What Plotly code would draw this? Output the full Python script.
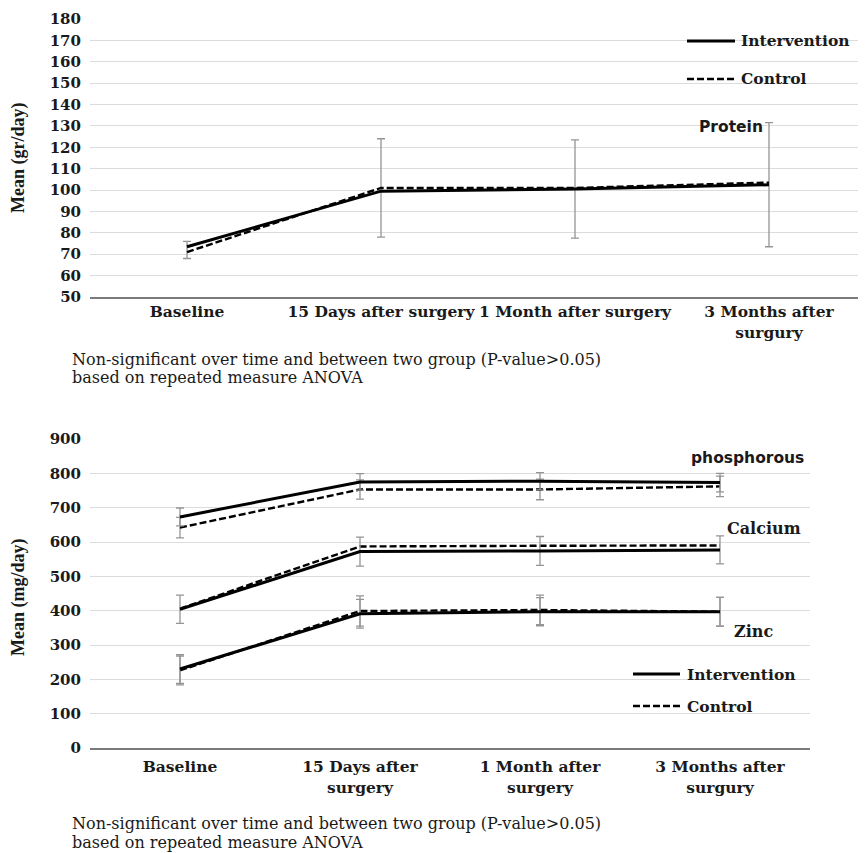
import plotly.graph_objects as go

# reference canvas and page offset (the page body adds an 8px margin)
W, H = 866, 853
OFF = 8
FW, FH = W - OFF, H - OFF

# ---------------- data ----------------
top_categories = ["Baseline", "15 Days after surgery", "1 Month after surgery", "3 Months after<br>surgury"]
bottom_categories = ["Baseline", "15 Days after<br>surgery", "1 Month after<br>surgery", "3 Months after<br>surgury"]

protein_intervention = [73.5, 99.5, 100.5, 102.5]
protein_control = [71, 101, 101, 103.5]
protein_control_err_plus = [5, 23, 22.5, 28]
protein_control_err_minus = [3, 23, 23.5, 30]

phos_intervention = [673, 775, 777, 773]
phos_intervention_err = [26, 24, 25, 27]
phos_control = [642, 753, 753, 762]
phos_control_err = [30, 28, 30, 30]

calcium_intervention = [404, 572, 574, 577]
calcium_intervention_err = [41, 42, 42, 41]
calcium_control = [406, 587, 589, 590]

zinc_intervention = [230, 391, 397, 397]
zinc_intervention_err = [42, 42, 41, 42]
zinc_control = [226, 399, 402, 397]
zinc_control_err = [42, 44, 43, 42]

# ---------------- styles ----------------
SERIF_B = dict(family="DejaVu Serif", weight="bold", color="#1a1a1a")
INT_LINE = dict(color="black", width=3)
CTL_LINE = dict(color="black", width=2.4, dash="7px,3px")
ERR = dict(type="data", color="#959595", thickness=1.3, width=4, visible=True)

def px_x(x):
    return (x - OFF) / FW

def px_y(y):
    return 1 - (y - OFF) / FH

fig = go.Figure()

def add(x, y, line, xa, ya, err=None, errm=None):
    tr = go.Scatter(x=x, y=y, mode="lines", line=line, xaxis=xa, yaxis=ya,
                    showlegend=False, hoverinfo="x+y")
    if err is not None:
        e = dict(ERR)
        e["array"] = err
        if errm is not None:
            e["symmetric"] = False
            e["arrayminus"] = errm
        tr.error_y = e
    fig.add_trace(tr)

# top chart
add(top_categories, protein_control, CTL_LINE, "x", "y", protein_control_err_plus, protein_control_err_minus)
add(top_categories, protein_intervention, INT_LINE, "x", "y")

# bottom chart
add(bottom_categories, phos_control, CTL_LINE, "x2", "y2", phos_control_err)
add(bottom_categories, phos_intervention, INT_LINE, "x2", "y2", phos_intervention_err)
add(bottom_categories, calcium_control, CTL_LINE, "x2", "y2")
add(bottom_categories, calcium_intervention, INT_LINE, "x2", "y2", calcium_intervention_err)
add(bottom_categories, zinc_control, CTL_LINE, "x2", "y2", zinc_control_err)
add(bottom_categories, zinc_intervention, INT_LINE, "x2", "y2", zinc_intervention_err)

xcommon = dict(type="category", showgrid=False, showline=True, linecolor="#7a7a7a",
               linewidth=1.5, ticks="", tickfont=dict(size=15.5, **SERIF_B), fixedrange=True,
               automargin=False, range=[-0.5, 3.5])
ycommon = dict(showgrid=True, gridcolor="#dcdcdc", gridwidth=1, zeroline=False,
               showline=False, ticks="", tickfont=dict(size=15, **SERIF_B),
               ticklabelstandoff=8, fixedrange=True, automargin=False)

fig.update_layout(
    width=FW, height=FH,
    margin=dict(l=0, r=0, t=0, b=0, autoexpand=False),
    paper_bgcolor="white", plot_bgcolor="white",
    showlegend=False,
    xaxis=dict(domain=[px_x(90), 1.0], anchor="y", categoryorder="array",
               categoryarray=top_categories, **xcommon),
    yaxis=dict(domain=[px_y(297), px_y(19)], range=[50, 180], dtick=10, anchor="x", **ycommon),
    xaxis2=dict(domain=[px_x(90), px_x(810)], anchor="y2", categoryorder="array",
                categoryarray=bottom_categories, ticklabelstandoff=4, **xcommon),
    yaxis2=dict(domain=[px_y(748), px_y(439)], range=[0, 900], dtick=100, anchor="x2", **ycommon),
)

annotations = []
shapes = []

def text(x, y, s, font, xanchor="left", angle=0, align="left"):
    annotations.append(dict(x=px_x(x), y=px_y(y), xref="paper", yref="paper", text=s,
                            showarrow=False, xanchor=xanchor, yanchor="middle",
                            textangle=angle, font=font, align=align))

def legend_line(x0, x1, y, line):
    shapes.append(dict(type="line", xref="paper", yref="paper", x0=px_x(x0), x1=px_x(x1),
                       y0=px_y(y), y1=px_y(y), line=line))

legend_font = dict(size=15.5, **SERIF_B)
label_serif = dict(size=16, **SERIF_B)
label_sans = dict(family="DejaVu Sans", weight="bold", size=15.5, color="#1a1a1a")
note_font = dict(family="DejaVu Serif", size=16, color="#1a1a1a")
ytitle_font = dict(family="Liberation Serif", weight="bold", size=18, color="#1a1a1a")

# y titles
text(18, 158, "Mean (gr/day)", ytitle_font, xanchor="center", angle=-90)
text(18, 598, "Mean (mg/day)", ytitle_font, xanchor="center", angle=-90)

# top legend + label
legend_line(687, 735, 41, INT_LINE)
text(739, 41, "Intervention", legend_font)
legend_line(687, 735, 79, CTL_LINE)
text(739, 79, "Control", legend_font)
text(765, 127, "Protein", label_sans, xanchor="right")

# bottom labels + legend
text(689, 458, "phosphorous", label_sans)
text(725, 528, "Calcium", label_serif)
text(732, 631, "Zinc", label_serif)
legend_line(633, 680, 674, INT_LINE)
text(685, 674, "Intervention", legend_font)
legend_line(633, 680, 706, CTL_LINE)
text(685, 706, "Control", legend_font)

note1 = "Non-significant over time and between two group (P-value>0.05)"
note2 = "based on repeated measure ANOVA"
text(70, 359, note1, note_font)
text(70, 377, note2, note_font)
text(70, 823, note1, note_font)
text(70, 842, note2, note_font)

fig.update_layout(annotations=annotations, shapes=shapes)

fig.write_html("out.html", config={"displayModeBar": False})
